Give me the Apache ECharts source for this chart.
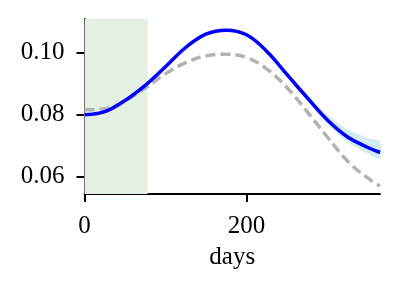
<!DOCTYPE html>
<html><head><meta charset="utf-8">
<script src="https://cdn.jsdelivr.net/npm/echarts@6/dist/echarts.min.js"></script>
<style>html,body{margin:0;padding:0;background:#fff}#c{width:398px;height:290px}</style>
</head><body><div id="c"></div>
<script>
const days = [0, 25, 50, 75, 100, 125, 150, 175, 200, 225, 250, 275, 300, 325, 350, 365];
const model = [0.0800, 0.0810, 0.0846, 0.0895, 0.0955, 0.1017, 0.1060, 0.1073, 0.1058, 0.1005, 0.0930, 0.0855, 0.0783, 0.0728, 0.0694, 0.0678];
const bandLow = [0.0796, 0.0806, 0.0842, 0.0891, 0.0951, 0.1013, 0.1056, 0.1069, 0.1054, 0.1001, 0.0925, 0.0847, 0.0770, 0.0711, 0.0675, 0.0658];
const bandHigh = [0.0804, 0.0814, 0.0850, 0.0899, 0.0959, 0.1021, 0.1065, 0.1078, 0.1063, 0.1009, 0.0936, 0.0865, 0.0800, 0.0752, 0.0725, 0.0714];
const reference = [0.0816, 0.0819, 0.0845, 0.0886, 0.0932, 0.0968, 0.0990, 0.0995, 0.0985, 0.0948, 0.0888, 0.0810, 0.0728, 0.0650, 0.0595, 0.0570];
const shadedSpan = [0, 78];
const xTicks = [0, 200];
const yTicks = [0.06, 0.08, 0.10];
const xName = 'days';

const font = 'Liberation Serif';
const chart = echarts.init(document.getElementById('c'), null, {renderer: 'canvas'});
const pairs = arr => days.map((d, i) => [d, arr[i]]);
chart.setOption({
  animation: false,
  grid: {left: 84.5, right: 18, top: 19, bottom: 96},
  xAxis: {
    type: 'value', min: 0, max: 365,
    name: xName, nameLocation: 'middle', nameGap: 51,
    nameTextStyle: {fontFamily: font, fontSize: 25, color: '#000'},
    axisLine: {show: true, lineStyle: {color: '#000', width: 2}},
    axisTick: {show: true, customValues: xTicks, length: 8, lineStyle: {color: '#000', width: 2}},
    axisLabel: {customValues: xTicks, fontFamily: font, fontSize: 25, color: '#000', margin: 20, formatter: v => String(v)},
    splitLine: {show: false}
  },
  yAxis: {
    type: 'value', min: 0.0544, max: 0.1109,
    axisLine: {show: true, lineStyle: {color: '#000', width: 2}},
    axisTick: {show: true, customValues: yTicks, length: 8, lineStyle: {color: '#000', width: 2}},
    axisLabel: {customValues: yTicks, fontFamily: font, fontSize: 25, color: '#000', margin: 20, formatter: v => v.toFixed(2)},
    splitLine: {show: false}
  },
  series: [
    {type: 'line', data: [], silent: true, z: 0,
     markArea: {silent: true, itemStyle: {color: '#e5f0e5'}, data: [[{xAxis: shadedSpan[0]}, {xAxis: shadedSpan[1]}]]}},
    {type: 'custom', data: [0], z: 1, silent: true,
     renderItem: (params, api) => {
       const pts = [];
       for (let i = 0; i < days.length; i++) pts.push(api.coord([days[i], bandHigh[i]]));
       for (let i = days.length - 1; i >= 0; i--) pts.push(api.coord([days[i], bandLow[i]]));
       return {type: 'polygon', shape: {points: pts, smooth: 0.3}, style: {fill: '#d3ebf2'}};
     }},
    {type: 'line', data: pairs(reference), smooth: 0.4, symbol: 'none', z: 2,
     lineStyle: {color: '#b3b3b3', width: 3.5, type: [10, 5]}},
    {type: 'line', data: pairs(model), smooth: 0.4, symbol: 'none', z: 3,
     lineStyle: {color: '#0000ff', width: 3.5}}
  ]
});
</script></body></html>
